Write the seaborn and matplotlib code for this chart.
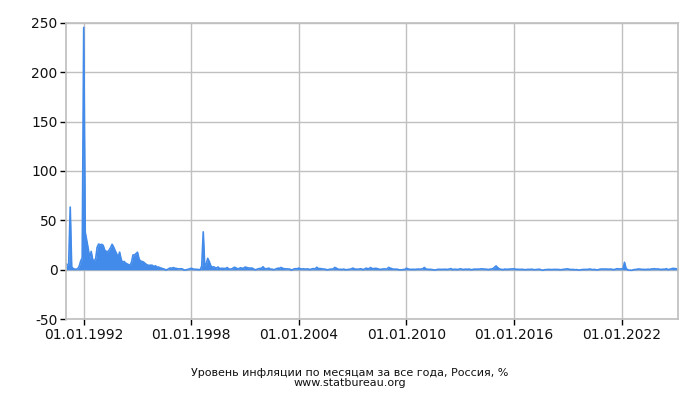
import numpy as np
import pandas as pd
import seaborn as sns
import matplotlib.dates as mdates
from matplotlib import pyplot as plt

# monthly inflation, % (month over previous month), Jan 1991 .. Mar 2025
y1991 = [6.2, 4.8, 6.3, 63.5, 3.0, 1.2, 0.7, 0.5, 1.1, 3.5, 8.9, 12.1]
y1992 = [245.3, 38.0, 29.9, 21.7, 12.0, 18.6, 10.6, 8.6, 11.5, 22.9, 26.1, 25.2]
y1993 = [25.8, 24.7, 20.1, 18.7, 18.1, 19.9, 22.4, 25.8, 23.1, 19.5, 16.4, 12.5]
y1994 = [17.9, 10.8, 7.4, 8.5, 6.9, 6.0, 5.3, 4.6, 7.7, 15.0, 15.0, 16.4]
y1995 = [17.8, 11.0, 8.9, 8.5, 7.9, 6.7, 5.4, 4.6, 4.5, 4.7, 4.5, 3.2]
y1996 = [4.1, 2.8, 2.8, 2.2, 1.6, 1.2, 0.7, -0.2, 0.3, 1.2, 1.9, 1.4]
y1997 = [2.3, 1.5, 1.4, 1.0, 0.9, 1.1, 0.9, -0.1, -0.3, 0.2, 0.6, 1.0]
y1998 = [1.5, 0.9, 0.6, 0.4, 0.5, 0.1, 0.2, 3.7, 38.4, 4.5, 5.7, 11.6]
y1999 = [8.4, 4.1, 2.8, 3.0, 2.2, 1.9, 2.8, 1.2, 1.5, 1.4, 1.2, 1.3]
y2000 = [2.3, 1.0, 0.6, 0.9, 1.8, 2.6, 1.8, 1.0, 1.3, 2.1, 1.5, 1.6]
y2001 = [2.8, 2.3, 1.9, 1.8, 1.8, 1.6, 0.5, 0.0, 0.6, 1.1, 1.4, 1.6]
y2002 = [3.1, 1.2, 1.1, 1.2, 1.7, 0.5, 0.7, 0.1, 0.4, 1.1, 1.6, 1.5]
y2003 = [2.4, 1.6, 1.1, 1.0, 0.8, 0.8, 0.7, -0.4, 0.3, 1.0, 1.0, 1.1]
y2004 = [1.8, 1.0, 0.8, 1.0, 0.7, 0.8, 0.9, 0.4, 0.4, 1.1, 1.1, 1.1]
y2005 = [2.6, 1.2, 1.3, 1.1, 0.8, 0.6, 0.5, -0.1, 0.3, 0.6, 0.7, 0.8]
y2006 = [2.4, 1.7, 0.8, 0.4, 0.5, 0.3, 0.7, 0.2, 0.1, 0.3, 0.6, 0.8]
y2007 = [1.7, 1.1, 0.6, 0.6, 0.6, 1.0, 0.9, 0.1, 0.8, 1.6, 1.2, 1.1]
y2008 = [2.3, 1.2, 1.2, 1.4, 1.4, 1.0, 0.5, 0.4, 0.8, 0.9, 0.8, 0.7]
y2009 = [2.4, 1.7, 1.3, 0.7, 0.6, 0.6, 0.6, 0.0, 0.0, 0.0, 0.3, 0.4]
y2010 = [1.6, 0.9, 0.6, 0.3, 0.5, 0.4, 0.4, 0.6, 0.8, 0.5, 0.8, 1.1]
y2011 = [2.4, 0.8, 0.6, 0.4, 0.5, 0.2, 0.0, -0.2, 0.0, 0.5, 0.4, 0.4]
y2012 = [0.5, 0.4, 0.6, 0.3, 0.5, 0.9, 1.2, 0.1, 0.6, 0.5, 0.3, 0.5]
y2013 = [1.0, 0.6, 0.3, 0.5, 0.7, 0.4, 0.8, 0.1, 0.2, 0.6, 0.6, 0.5]
y2014 = [0.6, 0.7, 1.0, 0.9, 0.9, 0.6, 0.5, 0.2, 0.7, 0.8, 1.3, 2.6]
y2015 = [3.9, 2.2, 1.2, 0.5, 0.4, 0.2, 0.8, 0.4, 0.6, 0.7, 0.8, 0.8]
y2016 = [1.0, 0.6, 0.5, 0.4, 0.4, 0.4, 0.5, 0.0, 0.2, 0.4, 0.4, 0.4]
y2017 = [0.6, 0.2, 0.1, 0.3, 0.4, 0.6, 0.1, -0.5, -0.1, 0.2, 0.2, 0.4]
y2018 = [0.3, 0.2, 0.3, 0.4, 0.4, 0.5, 0.3, 0.0, 0.2, 0.4, 0.5, 0.8]
y2019 = [1.0, 0.4, 0.3, 0.3, 0.3, 0.0, 0.2, -0.2, -0.2, 0.1, 0.3, 0.4]
y2020 = [0.4, 0.3, 0.6, 0.8, 0.3, 0.2, 0.4, 0.0, -0.1, 0.4, 0.7, 0.8]
y2021 = [0.7, 0.8, 0.7, 0.6, 0.7, 0.7, 0.3, 0.2, 0.6, 1.1, 1.0, 0.8]
y2022 = [1.0, 1.2, 7.6, 1.6, 0.1, -0.4, -0.4, -0.5, 0.1, 0.2, 0.4, 0.8]
y2023 = [0.8, 0.5, 0.4, 0.4, 0.3, 0.4, 0.6, 0.3, 0.9, 0.8, 1.1, 0.7]
y2024 = [0.9, 0.7, 0.4, 0.5, 0.7, 0.6, 1.1, 0.2, 0.5, 0.8, 1.4, 1.3]
y2025 = [1.2, 0.8, 0.7]

values = (y1991 + y1992 + y1993 + y1994 + y1995 + y1996 + y1997 + y1998 + y1999
          + y2000 + y2001 + y2002 + y2003 + y2004 + y2005 + y2006 + y2007 + y2008
          + y2009 + y2010 + y2011 + y2012 + y2013 + y2014 + y2015 + y2016 + y2017
          + y2018 + y2019 + y2020 + y2021 + y2022 + y2023 + y2024 + y2025)
dates = pd.date_range('1991-01-01', periods=len(values), freq='MS')
df = pd.DataFrame({'date': dates, 'inflation': values})

tick_years = [1992, 1998, 2004, 2010, 2016, 2022]
y_ticks = [-50, 0, 50, 100, 150, 200, 250]

sns.set_theme(style='white')
plt.rcParams['font.family'] = ['DejaVu Sans']
plt.rcParams['axes.unicode_minus'] = False

fig = plt.figure(figsize=(7, 4), dpi=100)
ax = fig.add_axes([0.094, 0.202, 0.875, 0.741])

blue = '#428bea'
sns.lineplot(data=df, x='date', y='inflation', ax=ax, color=blue, linewidth=1.2)
ax.fill_between(df['date'], df['inflation'], 0, color=blue, linewidth=0)

ax.set_xlim(df['date'].iloc[0], df['date'].iloc[-1])
ax.set_ylim(-50, 250)
ax.set_yticks(y_ticks)
ax.set_xticks([pd.Timestamp(f'{y}-01-01') for y in tick_years])
ax.xaxis.set_major_formatter(mdates.DateFormatter('%d.%m.%Y'))

#grid + frame in the same light gray
ax.grid(True, color='#c0c0c0', linewidth=1)
ax.set_axisbelow(True)
for side in ['top', 'right', 'bottom', 'left']:
    ax.spines[side].set_color('#c0c0c0')
ax.tick_params(axis='both', which='major', length=4, width=1, color='#000000',
               labelsize=10, labelcolor='#111111', left=True, bottom=True, pad=2)
ax.set_xlabel('')
ax.set_ylabel('')

fig.text(0.5, 0.068, 'Уровень инфляции по месяцам за все года, Россия, %',
         ha='center', va='center', fontsize=8, color='#111111')
fig.text(0.5, 0.043, 'www.statbureau.org', ha='center', va='center',
         fontsize=8, color='#111111')

plt.savefig('out.png', dpi=100)
